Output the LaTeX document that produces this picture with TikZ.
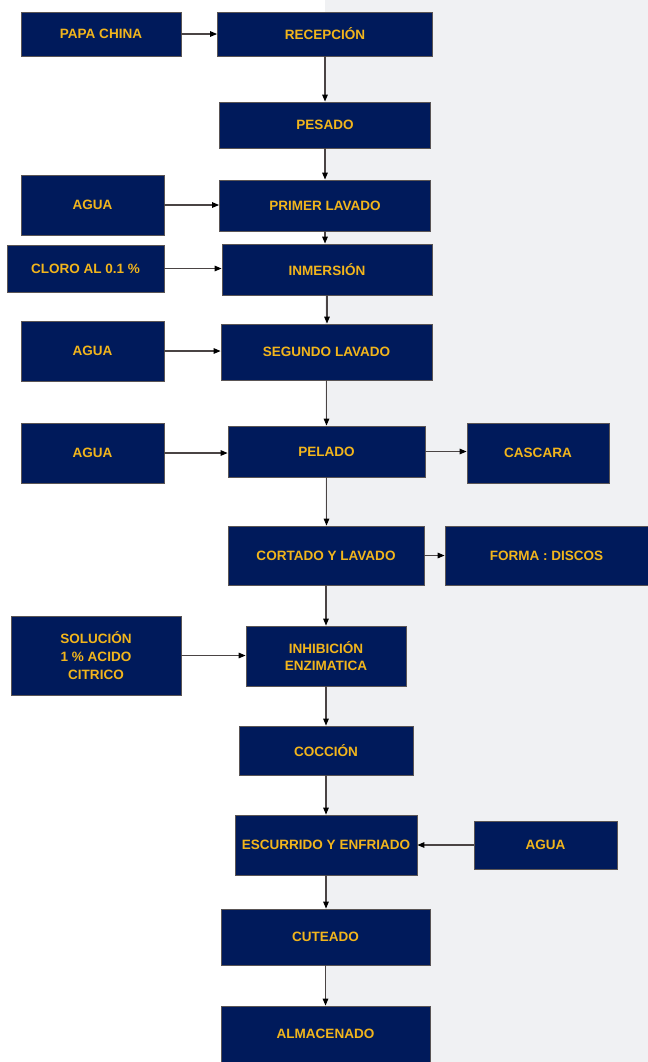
\documentclass[tikz,border=0pt]{standalone}
\usepackage{fontspec}
\setmainfont{Liberation Sans}
\usetikzlibrary{arrows.meta}

\definecolor{navy}{HTML}{001A5B}
\definecolor{gold}{HTML}{F2B51C}
\definecolor{pale}{HTML}{F0F1F3}
\definecolor{rim}{HTML}{5A5555}
\definecolor{wire}{HTML}{4A4444}

\begin{document}
\begin{tikzpicture}[x=0.02cm,y=-0.02cm,
    box/.style={draw=rim,line width=0.5pt,fill=navy,text=gold,align=center,
      font=\fontsize{7.7}{10}\selectfont\bfseries,inner sep=0pt},
    flow/.style={draw=wire,line width=0.6pt,-{Triangle[length=4pt,width=3.2pt,color=black]}}]
    % background
    \fill[white] (0,0) rectangle (648,1062);
    \fill[pale] (325,0) rectangle (648,1062);
    \useasboundingbox (0,0) rectangle (648,1062);
    % main column
    \node[box,minimum width=4.3cm,minimum height=0.88cm] (recep) at (325,34) {RECEPCIÓN};
    \node[box,minimum width=4.22cm,minimum height=0.92cm] (pesado) at (325,125) {PESADO};
    \node[box,minimum width=4.22cm,minimum height=1.02cm] (primer) at (325,205.5) {PRIMER LAVADO};
    \node[box,minimum width=4.2cm,minimum height=1.02cm] (inmer) at (327,269.5) {INMERSIÓN};
    \node[box,minimum width=4.22cm,minimum height=1.12cm] (segundo) at (326.5,352) {SEGUNDO LAVADO};
    \node[box,minimum width=3.94cm,minimum height=1.02cm] (pelado) at (326.5,451.5) {PELADO};
    \node[box,minimum width=3.92cm,minimum height=1.18cm] (cortado) at (326,555.5) {CORTADO Y LAVADO};
    \node[box,minimum width=3.2cm,minimum height=1.2cm] (inhib) at (326,656) {INHIBICIÓN\\ENZIMATICA};
    \node[box,minimum width=3.48cm,minimum height=0.98cm] (coccion) at (326,750.5) {COCCIÓN};
    \node[box,minimum width=3.64cm,minimum height=1.2cm] (escurr) at (326,845) {ESCURRIDO Y ENFRIADO};
    \node[box,minimum width=4.18cm,minimum height=1.12cm] (cutea) at (325.5,937) {CUTEADO};
    \node[box,minimum width=4.18cm,minimum height=1.12cm] (almac) at (325.5,1034) {ALMACENADO};
    % inputs and outputs
    \node[box,minimum width=3.2cm,minimum height=0.88cm] (papa) at (101,34) {PAPA CHINA};
    \node[box,minimum width=2.86cm,minimum height=1.2cm] (agua1) at (92.5,205) {AGUA};
    \node[box,minimum width=3.14cm,minimum height=0.94cm] (cloro) at (85.5,268.5) {CLORO AL 0.1 \%};
    \node[box,minimum width=2.86cm,minimum height=1.2cm] (agua2) at (92.5,351) {AGUA};
    \node[box,minimum width=2.86cm,minimum height=1.2cm] (agua3) at (92.5,453) {AGUA};
    \node[box,minimum width=2.84cm,minimum height=1.2cm] (cascara) at (538,453) {CASCARA};
    \node[box,minimum width=4.06cm,minimum height=1.18cm] (forma) at (546.5,555.5) {FORMA : DISCOS};
    \node[box,minimum width=3.4cm,minimum height=1.58cm] (soluc) at (96,655.5) {SOLUCIÓN\\1 \% ACIDO\\CITRICO};
    \node[box,minimum width=2.86cm,minimum height=0.96cm] (agua4) at (545.5,845) {AGUA};
    % vertical flow
    \path[flow] (recep) edge (recep |- pesado.north);
    \path[flow] (pesado) edge (pesado |- primer.north);
    \path[flow] (primer) edge (primer |- inmer.north);
    \path[flow] (inmer) edge (inmer |- segundo.north);
    \path[flow] (segundo) edge (segundo |- pelado.north);
    \path[flow] (pelado) edge (pelado |- cortado.north);
    \path[flow] (cortado) edge (cortado |- inhib.north);
    \path[flow] (inhib) edge (inhib |- coccion.north);
    \path[flow] (coccion) edge (coccion |- escurr.north);
    \path[flow] (escurr) edge (escurr |- cutea.north);
    \path[flow] (cutea) edge (cutea |- almac.north);
    % side flow
    \path[flow] (papa) edge (papa -| recep.west);
    \path[flow] (agua1) edge (agua1 -| primer.west);
    \path[flow] (cloro) edge (cloro -| inmer.west);
    \path[flow] (agua2) edge (agua2 -| segundo.west);
    \path[flow] (agua3) edge (agua3 -| pelado.west);
    \path[flow] (pelado) edge (pelado -| cascara.west);
    \path[flow] (cortado) edge (cortado -| forma.west);
    \path[flow] (soluc) edge (soluc -| inhib.west);
    \path[flow] (agua4) edge (agua4 -| escurr.east);
\end{tikzpicture}
\end{document}
